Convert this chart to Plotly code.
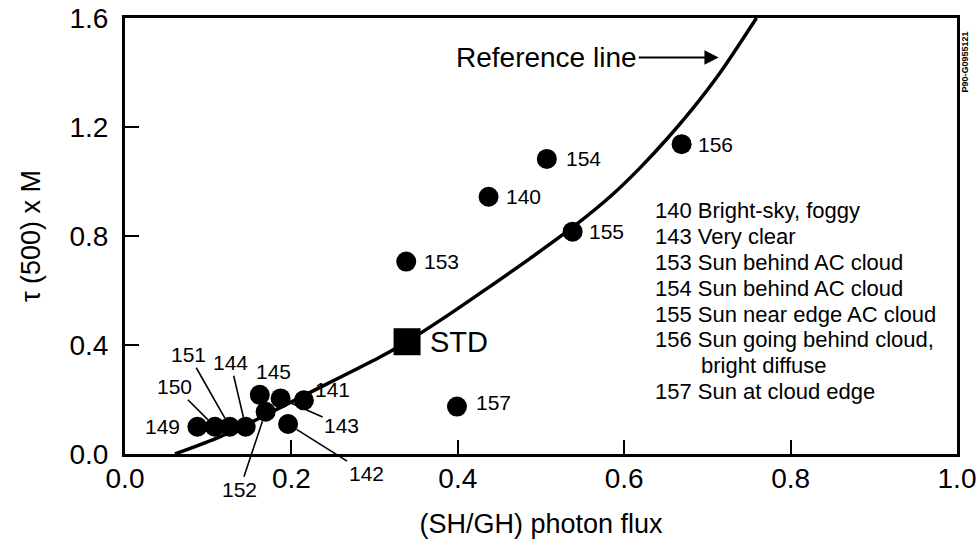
import plotly.graph_objects as go

# ---------------- data ----------------
run_ids = ["140", "141", "142", "143", "144", "145", "149", "150",
           "151", "152", "153", "154", "155", "156", "157"]
flux_ratio = [0.437, 0.215, 0.196, 0.187, 0.145, 0.162, 0.087, 0.108,
              0.126, 0.169, 0.338, 0.507, 0.538, 0.669, 0.399]
tau_m = [0.944, 0.197, 0.110, 0.204, 0.100, 0.217, 0.100, 0.100,
         0.100, 0.155, 0.706, 1.083, 0.816, 1.137, 0.174]

std_x = [0.339]
std_y = [0.412]

ref_x = [0.060, 0.114, 0.162, 0.210, 0.306, 0.339, 0.391, 0.435, 0.487,
         0.539, 0.587, 0.619, 0.651, 0.683, 0.715, 0.759]
ref_y = [0.000, 0.063, 0.132, 0.207, 0.355, 0.412, 0.515, 0.607, 0.718,
         0.834, 0.955, 1.050, 1.155, 1.270, 1.398, 1.600]

legend_lines = ["140 Bright-sky, foggy", "143 Very clear",
                "153 Sun behind AC cloud", "154 Sun behind AC cloud",
                "155 Sun near edge AC cloud", "156 Sun going behind cloud,",
                "bright diffuse", "157 Sun at cloud edge"]

x_ticks = [0.0, 0.2, 0.4, 0.6, 0.8, 1.0]
y_ticks = [0.0, 0.4, 0.8, 1.2, 1.6]

# ---------------- styling / placement ----------------
FONT = "Liberation Sans, Arial, Helvetica, sans-serif"
LBL = 21

# label placement per run: ("side", xshift, yshift, xanchor) or ("leader", ax, ay)
label_style = {
    "140": ("side", 15, 0, "left"),
    "153": ("side", 16, 0, "left"),
    "154": ("side", 17, 0, "left"),
    "155": ("side", 14, 0, "left"),
    "156": ("side", 14, 0, "left"),
    "157": ("side", 17, 4, "left"),
    "149": ("side", -15, 0, "right"),
    "145": ("side", -6, 23, "left"),
    "141": ("side", 9, 11, "left"),
    "143": ("leader", 61, 27),
    "142": ("leader", 78, 49),
    "152": ("leader", -26, 78),
    "150": ("leader", -40, -40),
    "151": ("leader", -41, -72),
    "144": ("leader", -15, -64),
}

fig = go.Figure()

fig.add_trace(go.Scatter(
    x=ref_x, y=ref_y, mode="lines",
    line=dict(color="black", width=3.5, shape="spline", smoothing=0.8),
    hoverinfo="skip", showlegend=False))

fig.add_trace(go.Scatter(
    x=flux_ratio, y=tau_m, mode="markers", text=run_ids,
    marker=dict(color="black", size=20, symbol="circle"),
    showlegend=False))

fig.add_trace(go.Scatter(
    x=std_x, y=std_y, mode="markers",
    marker=dict(color="black", size=27, symbol="square"),
    showlegend=False))

annotations = []
for rid, xv, yv in zip(run_ids, flux_ratio, tau_m):
    st = label_style[rid]
    if st[0] == "side":
        annotations.append(dict(
            x=xv, y=yv, text=rid, showarrow=False, xanchor=st[3],
            yanchor="middle", xshift=st[1], yshift=st[2],
            font=dict(family=FONT, size=LBL, color="black")))
    else:
        annotations.append(dict(
            x=xv, y=yv, text=rid, showarrow=True, ax=st[1], ay=st[2],
            arrowhead=0, arrowwidth=1.6, arrowcolor="black", standoff=10,
            font=dict(family=FONT, size=LBL, color="black")))

annotations.append(dict(
    x=std_x[0], y=std_y[0], text="STD", showarrow=False, xanchor="left",
    xshift=21, font=dict(family=FONT, size=29, color="black")))

annotations.append(dict(
    x=0.716, y=1.455, text="Reference line", showarrow=True,
    ax=-174, ay=0, arrowhead=2, arrowsize=1.3, arrowwidth=2.2,
    arrowcolor="black", standoff=2,
    font=dict(family=FONT, size=28, color="black")))

for i, line in enumerate(legend_lines):
    annotations.append(dict(
        x=0.6346, y=0.892 - i * 0.0947, text=line, showarrow=False,
        xanchor="left", yanchor="middle", xshift=46 if i == 6 else 0,
        font=dict(family=FONT, size=22, color="black")))

annotations.append(dict(
    xref="paper", yref="paper", x=1.0096, y=0.90, text="<b>P90-G0955121</b>",
    xanchor="center", yanchor="middle",
    textangle=-90, showarrow=False, font=dict(family=FONT, size=9, color="black")))

axis_common = dict(
    showgrid=False, zeroline=False, showline=True, linecolor="black",
    linewidth=3, mirror=True, ticks="inside", ticklen=14, tickwidth=2,
    tickcolor="black", tickfont=dict(family=FONT, size=28, color="black"),
    ticklabeloverflow="allow", automargin=False)

fig.update_layout(
    width=976, height=539,
    margin=dict(l=125, r=19, t=18, b=85),
    plot_bgcolor="white", paper_bgcolor="white",
    font=dict(family=FONT, color="black"),
    xaxis=dict(range=[0, 1.0], tickvals=x_ticks,
               ticktext=[f"{v:.1f}" for v in x_ticks],
               ticklabelstandoff=-3,
               title=dict(text="(SH/GH) photon flux", standoff=30,
                          font=dict(family=FONT, size=27, color="black")),
               **axis_common),
    yaxis=dict(range=[0, 1.6], tickvals=y_ticks,
               ticktext=[f"{v:.1f}" for v in y_ticks],
               ticklabelstandoff=8,
               title=dict(text="τ (500) x M", standoff=22,
                          font=dict(family=FONT, size=27, color="black")),
               **axis_common),
    annotations=annotations,
)

fig.write_html(
    "out.html",
    config={"displayModeBar": False},
    post_script="document.body.style.margin='0';document.body.style.overflow='hidden';",
)
